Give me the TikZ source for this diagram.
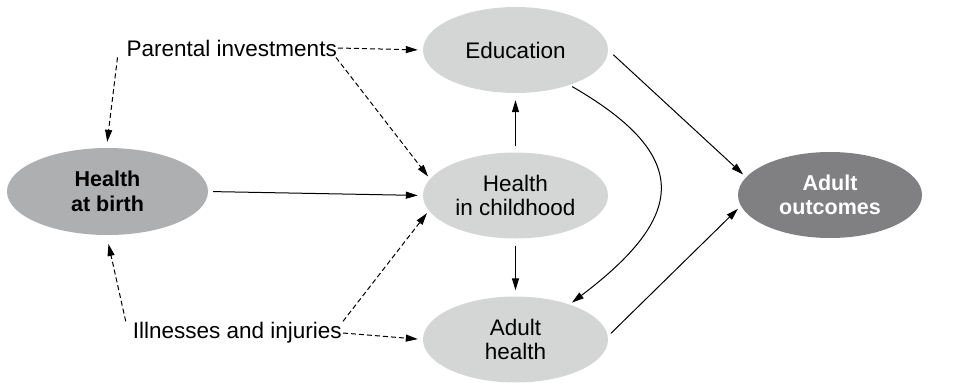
\documentclass[tikz,border=0pt]{standalone}
\usepackage{fontspec}
\setmainfont{Liberation Sans}
\usetikzlibrary{shapes.geometric,arrows.meta}
\definecolor{lightell}{HTML}{D4D6D5}
\definecolor{midell}{HTML}{AEAFB1}
\definecolor{darkell}{HTML}{808083}
\begin{document}
\begin{tikzpicture}[x=1pt,y=-1pt,
  every node/.style={font=\fontsize{22.5}{24.5}\selectfont, align=center, inner sep=1pt},
  ell/.style={ellipse, fill=lightell, inner sep=0pt, minimum width=185pt, minimum height=86pt},
  arr/.style={line width=1pt, -{Triangle[length=12pt,width=7pt]}},
  darr/.style={arr, dash pattern=on 5pt off 3pt}
]
\useasboundingbox (0,0) rectangle (967,383);
\node[ell] (edu) at (515.5,50) {Education};
\node[ell] (hic) at (515.5,195.5) {Health\\in childhood};
\node[ell] (ah) at (515.5,339.5) {Adult\\health};
\node[ell, fill=midell, minimum width=201pt, minimum height=87pt, font=\fontsize{21.5}{24.5}\selectfont\bfseries] (hab) at (107.5,191.5) {Health\\at birth};
\node[ell, fill=darkell, minimum width=184pt, minimum height=86pt, text=white, font=\fontsize{21.5}{24.5}\selectfont\bfseries] (ao) at (830,195) {Adult\\outcomes};
\node[anchor=east] (par) at (338,48) {Parental investments};
\node[anchor=east] (ill) at (343,333) {Illnesses and injuries};

\draw[darr, shorten >=5pt] (par.east) -- (edu.west);
\draw[darr, shorten >=3pt] ([xshift=-2pt]par.south east) -- (hic.169);
\draw[darr, shorten >=6pt] ([xshift=-8pt]par.south west) -- ([xshift=-1pt]hab.north);
\draw[arr, shorten <=5pt, shorten >=5pt] (hab.east) -- (hic.west);
\draw[darr, shorten >=9pt] ([xshift=-6pt]ill.north west) -- ([xshift=-1pt]hab.south);
\draw[darr, shorten >=3pt] ([xshift=0pt]ill.north east) -- (hic.190);
\draw[darr, shorten >=5pt] (ill.east) -- (ah.west);
\draw[arr, shorten <=6pt, shorten >=7pt] (hic.north) -- (edu.south);
\draw[arr, shorten <=7pt, shorten >=6pt] (hic.south) -- (ah.north);
\draw[arr, shorten <=7pt, shorten >=4pt] (edu.east) -- (ao.168);
\draw[arr, shorten <=4pt, shorten >=4pt] (ah.2) -- (ao.187);
\draw[arr, shorten <=3pt, shorten >=3pt] (edu.-33) .. controls +(125,72) and +(115,-87) .. (ah.33);
\end{tikzpicture}
\end{document}
